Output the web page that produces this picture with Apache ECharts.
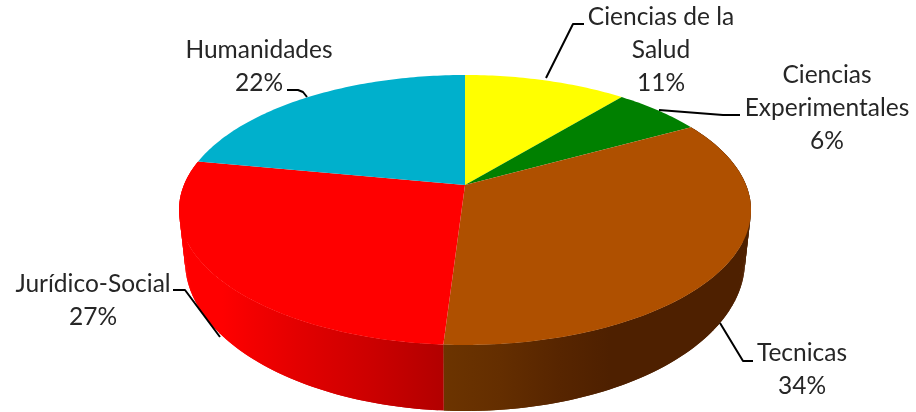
<!DOCTYPE html>
<html>
<head>
<meta charset="utf-8">
<style>html,body{margin:0;padding:0;background:#fff}#c{width:916px;height:412px}</style>
<script src="https://cdn.jsdelivr.net/npm/echarts@6/dist/echarts.min.js"></script>
</head>
<body>
<div id="c"></div>
<script>
const categories = ['Ciencias de la Salud', 'Ciencias Experimentales', 'Tecnicas', 'Jurídico-Social', 'Humanidades'];
const shares = [11, 6, 34, 27, 22];

const topColors = ['#FFFF00', '#008000', '#AF5000', '#FF0000', '#00B0CC'];
const total = shares.reduce((a, b) => a + b, 0);

// Projective view of a flat disc: a circle mapped to an ellipse whose centre sits off the apex.
function disc(cx, cy, up, down, halfW) {
  const p = (up - down) / (up + down);
  const k = up * (1 - p);
  const R = halfW * Math.sqrt(1 - p * p);
  return th => {
    const v = -Math.cos(th), w = 1 + p * v;
    return [cx + R * Math.sin(th) / w, cy + k * v / w];
  };
}
const topDisc = disc(465, 185, 110, 160, 286);
const baseDisc = disc(465, 233, 122, 178, 280);

function sweep(i) {
  let a = 0;
  for (let j = 0; j < i; j++) a += shares[j];
  return [a / total * 2 * Math.PI, (a + shares[i]) / total * 2 * Math.PI];
}
function rim(fn, a, b) {
  const n = Math.max(8, Math.ceil((b - a) * 60)), pts = [];
  for (let s = 0; s <= n; s++) pts.push(fn(a + (b - a) * s / n));
  return pts;
}
function hgrad(x0, x1, stops) {
  return { type: 'linear', x: x0, y: 0, x2: x1, y2: 0, global: true,
    colorStops: stops.map(s => ({ offset: (s[0] - x0) / (x1 - x0), color: s[1] })) };
}
const wallFills = {
  2: hgrad(443, 760, [[443, '#6C3400'], [500, '#642E00'], [560, '#572500'], [610, '#4E2000'], [760, '#4E2000']]),
  3: hgrad(170, 444, [[170, '#FF0000'], [222, '#FF0000'], [250, '#F40000'], [300, '#E20000'], [370, '#CC0000'], [443, '#B20000']])
};

const labelSpots = [
  { x: 661, y: 17, line: [[546, 78], [573, 24], [584, 24]] },
  { x: 827, y: 75, line: [[659, 110], [723, 115], [740, 115]] },
  { x: 802, y: 353, line: [[720, 323], [743, 361], [753, 361]] },
  { x: 93, y: 284, line: [[173, 290], [185, 290], [220, 337]] },
  { x: 259, y: 50, line: [[287, 90], [298, 90], [303, 92], [307, 97]] }
];
const labelLines = [
  ['Ciencias de la', 'Salud'],
  ['Ciencias', 'Experimentales'],
  ['Tecnicas'],
  ['Jurídico-Social'],
  ['Humanidades']
];

const seriesData = categories.map((n, i) => ({ name: n, value: shares[i] }));

const chart = echarts.init(document.getElementById('c'), null, { renderer: 'canvas' });
chart.setOption({
  animation: false,
  backgroundColor: '#fff',
  series: [
    {
      type: 'custom', coordinateSystem: 'none', silent: true, z: 1, data: seriesData,
      renderItem(params) {
        const i = params.dataIndex, fill = wallFills[i];
        if (!fill) return { type: 'group', children: [] };
        const [a, b] = sweep(i);
        const up = rim(topDisc, a, b), low = rim(baseDisc, a, b), kids = [];
        for (let s = 0; s < up.length - 1; s++) {
          const e = Math.min(s + 2, up.length - 1);
          kids.push({ type: 'polygon', shape: { points: [up[s], up[e], low[e], low[s]] }, style: { fill: fill } });
        }
        return { type: 'group', children: kids };
      }
    },
    {
      type: 'custom', coordinateSystem: 'none', silent: true, z: 2, data: seriesData,
      renderItem(params) {
        const i = params.dataIndex;
        const [a, b] = sweep(i);
        const pts = [[465, 185]].concat(rim(topDisc, a, b));
        return { type: 'polygon', shape: { points: pts }, style: { fill: topColors[i] } };
      }
    },
    {
      type: 'custom', coordinateSystem: 'none', silent: true, z: 3, data: seriesData,
      renderItem(params, api) {
        const i = params.dataIndex, spot = labelSpots[i];
        const pct = Math.round(api.value(1) / total * 100) + '%';
        const lines = labelLines[i].concat([pct]);
        const kids = [{
          type: 'polyline', shape: { points: spot.line },
          style: { stroke: '#000', lineWidth: 2, fill: null, lineJoin: 'round' }
        }];
        lines.forEach((t, j) => kids.push({
          type: 'text',
          style: { text: t, x: spot.x, y: spot.y + j * 33, align: 'center', verticalAlign: 'middle',
            font: '400 24.5px Lato, Carlito, sans-serif', fill: '#262626' }
        }));
        return { type: 'group', children: kids };
      },
      encode: { value: 1 }
    }
  ]
});
</script>
</body>
</html>
